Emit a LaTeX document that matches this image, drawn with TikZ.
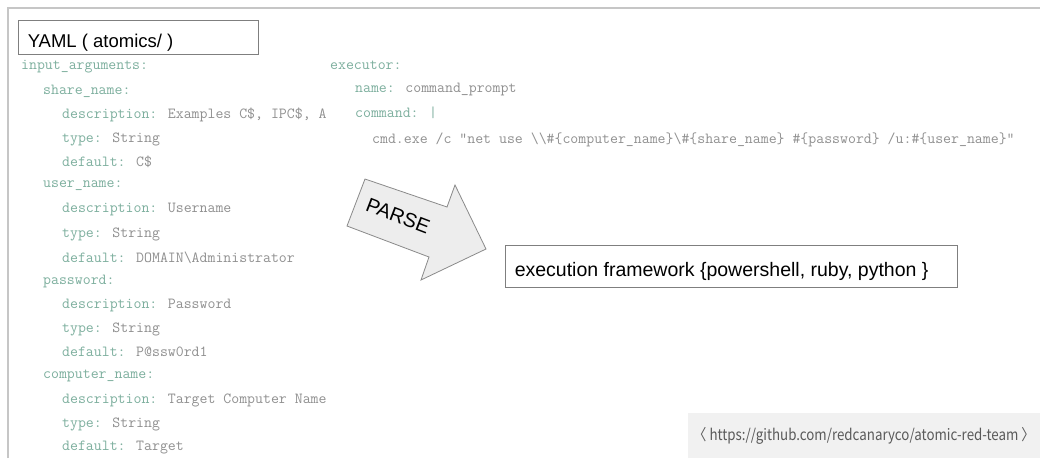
\documentclass[tikz,border=0pt]{standalone}
\usepackage{fontspec}
\setmainfont{Liberation Sans}
\newfontfamily\krfont{Noto Sans CJK KR}

\definecolor{keyc}{HTML}{7DAF9E}
\definecolor{valc}{HTML}{909090}
\definecolor{framec}{HTML}{C6C6C6}
\definecolor{boxline}{HTML}{7F7F7F}
\definecolor{arrowfill}{HTML}{EDEDED}
\definecolor{arrowline}{HTML}{8A8A8A}
\definecolor{notebg}{HTML}{F1F1F1}
\definecolor{notetext}{HTML}{5A5A5A}

\newcommand\keytxt[1]{\textcolor{keyc}{#1}}

\tikzset{
  code/.style={font=\ttfamily\fontsize{15.4}{18}\selectfont, anchor=west,
    inner sep=0pt, text=valc},
  labelbox/.style={draw=boxline, line width=0.9pt, fill=white, rectangle,
    inner sep=0pt},
  labeltext/.style={anchor=base west, inner sep=0pt},
  parsearrow/.style={fill=arrowfill, draw=arrowline, line width=0.8pt,
    line join=miter},
  srcnote/.style={fill=notebg, text=notetext, inner sep=0pt,
    font=\krfont\fontsize{15.5}{19}\selectfont}
}

\begin{document}
\begin{tikzpicture}[x=1pt,y=-1pt]
\useasboundingbox (0,0) rectangle (1040,458);
\fill[white] (0,0) rectangle (1040,458);

% outer frame (top and left edges only)
\draw[framec, line width=1.6pt] (8,458) -- (8,8) -- (1040,8);

% title box
\node[labelbox, minimum width=240pt, minimum height=34pt] (yaml) at (138,37) {};
\node[labeltext, font=\fontsize{18.5}{22}\selectfont] (yamltxt)
  at ([xshift=10pt,yshift=7pt]yaml.south west) {YAML ( atomics/ )};

% input arguments block
\node[code] (ia)  at (21,67)  {\keytxt{input\_arguments:}};
\node[code] (sn)  at (43,91)  {\keytxt{share\_name:}};
\node[code] (sn1) at (62,115) {\keytxt{description:} Examples C\$, IPC\$, A};
\node[code] (sn2) at (62,139) {\keytxt{type:} String};
\node[code] (sn3) at (62,162) {\keytxt{default:} C\$};
\node[code] (un)  at (43,186) {\keytxt{user\_name:}};
\node[code] (un1) at (62,210) {\keytxt{description:} Username};
\node[code] (un2) at (62,234) {\keytxt{type:} String};
\node[code] (un3) at (62,258) {\keytxt{default:} DOMAIN\textbackslash Administrator};
\node[code] (pw)  at (43,281) {\keytxt{password:}};
\node[code] (pw1) at (62,305) {\keytxt{description:} Password};
\node[code] (pw2) at (62,329) {\keytxt{type:} String};
\node[code] (pw3) at (62,352) {\keytxt{default:} P@ssw0rd1};
\node[code] (cn)  at (43,376) {\keytxt{computer\_name:}};
\node[code] (cn1) at (62,400) {\keytxt{description:} Target Computer Name};
\node[code] (cn2) at (62,424) {\keytxt{type:} String};
\node[code] (cn3) at (62,448) {\keytxt{default:} Target};

% executor block
\node[code] (ex)  at (330,65)  {\keytxt{executor:}};
\node[code] (ex1) at (355,90)  {\keytxt{name:} command\_prompt};
\node[code] (ex2) at (355,113) {\keytxt{command: |}};
\node[code] (ex3) at (372,140) {cmd.exe /c "net use \textbackslash\textbackslash\#\{computer\_name\}\textbackslash\#\{share\_name\} \#\{password\} /u:\#\{user\_name\}"};

% parse arrow
\draw[parsearrow] (365,179) -- (447,207) -- (455,185) -- (486,249)
  -- (421,280) -- (429,257) -- (347,226) -- cycle;
\node[rotate=-21, font=\fontsize{20}{24}\selectfont, inner sep=0pt] (parse)
  at (398,216) {PARSE};

% execution framework box
\node[labelbox, minimum width=452pt, minimum height=42pt] (fw) at (731,266) {};
\node[labeltext, font=\fontsize{19.5}{24}\selectfont] (fwtxt)
  at ([xshift=10pt,yshift=11pt]fw.south west)
  {execution framework \{powershell, ruby, python \}};

% source note
\node[srcnote, minimum width=352pt, minimum height=45pt] (src) at (864,435.5)
  {\scalebox{0.86}[1]{〈 https://github.com/redcanaryco/atomic-red-team 〉}};
\end{tikzpicture}
\end{document}
